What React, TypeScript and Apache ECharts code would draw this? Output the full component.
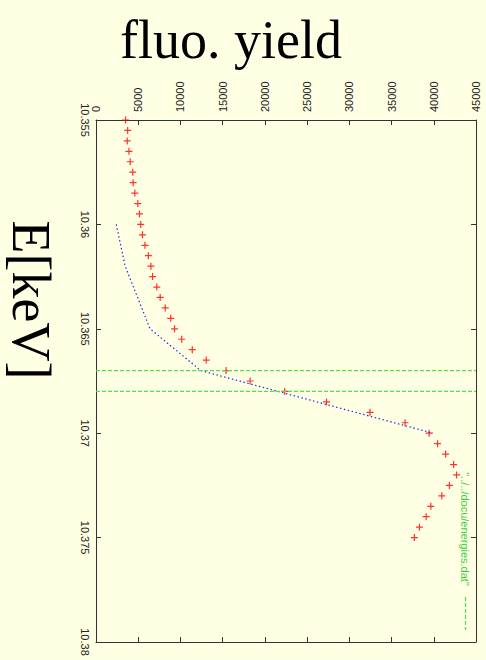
import React, { useEffect, useRef } from "react";
import * as echarts from "echarts";

// Measured fluorescence yield (red crosses)
const energies = [
  10.355, 10.3555, 10.356, 10.3565, 10.357, 10.3575, 10.358, 10.3585, 10.359, 10.3595,
  10.36, 10.3605, 10.361, 10.3615, 10.362, 10.3625, 10.363, 10.3635, 10.364, 10.3645,
  10.365, 10.3655, 10.366, 10.3665, 10.367, 10.3675, 10.368, 10.3685, 10.369, 10.3695,
  10.37, 10.3705, 10.371, 10.3715, 10.372, 10.3725, 10.373, 10.3735, 10.374, 10.3745,
  10.375,
];
const fluoYield = [
  3500, 3750, 3700, 3900, 4050, 4350, 4400, 4600, 4950, 5150,
  5300, 5500, 5800, 6200, 6500, 6700, 7200, 7600, 8200, 8850,
  9300, 10150, 11400, 13050, 15400, 18250, 22350, 27300, 32450, 36600,
  39450, 40450, 41400, 42350, 42700, 41850, 40950, 39650, 39100, 38300,
  37700,
];

// Fit curve (blue dotted)
const fitEnergies = [10.36, 10.362, 10.365, 10.367, 10.37];
const fitYield = [2400, 3450, 6400, 12400, 39900];

// "../../docu/energies.dat" (green dashed lines)
const markerEnergies = [10.367, 10.368];
const markerYieldSpan = [0, 45000];

// Axes
const yieldMin = 0;
const yieldMax = 45000;
const yieldStep = 5000;
const energyMin = 10.355;
const energyMax = 10.38;
const energyStep = 0.005;

const legendLabel = '"../../docu/energies.dat"';
const titleText = "fluo. yield";
const energyLabel = "E[keV]";

const plusPath = "path://M3.3,0H4.7V3.3H8V4.7H4.7V8H3.3V4.7H0V3.3H3.3Z";

export default function App() {
  const ref = useRef<HTMLDivElement>(null);

  useEffect(() => {
    if (!ref.current) return;
    const chart = echarts.init(ref.current, null, { renderer: "svg" });

    const axisColor = "#333";
    const labelFont = { fontFamily: "Liberation Sans, Arial, sans-serif", fontSize: 11, color: "#222" };
    const lineCommon = {
      axisLine: { show: true, onZero: false, lineStyle: { color: axisColor, width: 1 } },
      axisTick: { show: true, inside: true, length: 5, lineStyle: { color: axisColor } },
      splitLine: { show: false },
    };

    const markerData: any[] = [];
    markerEnergies.forEach((e, i) => {
      if (i > 0) markerData.push(["-", "-"]);
      markerData.push([markerYieldSpan[0], e]);
      markerData.push([markerYieldSpan[1], e]);
    });

    const option: any = {
      animation: false,
      backgroundColor: "#ffffe4",
      grid: { left: 96, top: 120, right: 10, bottom: 18, containLabel: false },
      xAxis: [
        {
          type: "value",
          position: "top",
          min: yieldMin,
          max: yieldMax,
          interval: yieldStep,
          ...lineCommon,
          axisLabel: { rotate: -90, margin: 8, ...labelFont, formatter: (v: number) => String(Math.round(v)) },
        },
        {
          type: "value",
          position: "bottom",
          min: yieldMin,
          max: yieldMax,
          interval: yieldStep,
          ...lineCommon,
          axisLabel: { show: false },
        },
      ],
      yAxis: [
        {
          type: "value",
          position: "left",
          inverse: true,
          min: energyMin,
          max: energyMax,
          interval: energyStep,
          ...lineCommon,
          axisLabel: {
            rotate: -90,
            margin: 6,
            ...labelFont,
            formatter: (v: number) => String(+v.toFixed(4)),
          },
        },
        {
          type: "value",
          position: "right",
          inverse: true,
          min: energyMin,
          max: energyMax,
          interval: energyStep,
          ...lineCommon,
          axisLabel: { show: false },
        },
      ],
      series: [
        {
          type: "scatter",
          name: "fluo",
          xAxisIndex: 0,
          yAxisIndex: 0,
          symbol: plusPath,
          symbolSize: 7,
          itemStyle: { color: "#ff0000" },
          data: fluoYield.map((y, i) => [y, energies[i]]),
        },
        {
          type: "line",
          name: "fit",
          xAxisIndex: 0,
          yAxisIndex: 0,
          showSymbol: false,
          symbol: "none",
          lineStyle: { color: "#1a2cf0", width: 1.2, type: [1.5, 2.5] },
          data: fitYield.map((y, i) => [y, fitEnergies[i]]),
        },
        {
          type: "line",
          name: legendLabel,
          xAxisIndex: 0,
          yAxisIndex: 0,
          showSymbol: false,
          symbol: "none",
          connectNulls: false,
          lineStyle: { color: "#55dd55", width: 1.3, type: [4, 2] },
          data: markerData,
        },
      ],
      graphic: [
        {
          type: "text",
          x: 231,
          y: 40,
          style: {
            text: titleText,
            font: '54px "Liberation Serif", "Times New Roman", serif',
            fill: "#000",
            align: "center",
            verticalAlign: "middle",
          },
        },
        {
          type: "text",
          x: 31,
          y: 300,
          rotation: -Math.PI / 2,
          style: {
            text: energyLabel,
            font: '54px "Liberation Serif", "Times New Roman", serif',
            fill: "#000",
            align: "center",
            verticalAlign: "middle",
          },
        },
        {
          type: "text",
          x: 465,
          y: 529,
          rotation: -Math.PI / 2,
          style: {
            text: legendLabel,
            font: '11px "Liberation Sans", Arial, sans-serif',
            fill: "#3ccf3c",
            align: "center",
            verticalAlign: "middle",
          },
        },
        {
          type: "line",
          shape: { x1: 465.5, y1: 597, x2: 465.5, y2: 630 },
          style: { stroke: "#55dd55", lineWidth: 1.3, lineDash: [4, 2] },
        },
      ],
    };

    chart.setOption(option);
    return () => chart.dispose();
  }, []);

  return (
    <div
      ref={ref}
      style={{ position: "fixed", left: 0, top: 0, width: 486, height: 660, background: "#ffffe4" }}
    />
  );
}
